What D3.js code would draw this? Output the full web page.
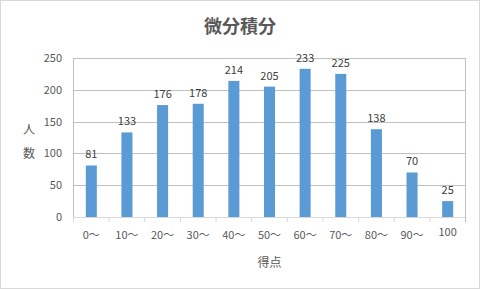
<!DOCTYPE html>
<html>
<head>
<meta charset="utf-8">
<script src="https://cdn.jsdelivr.net/npm/d3@7"></script>
<style>
body { margin: 0; background: #fff; }
text { font-family: "Noto Sans CJK JP", "Noto Sans", sans-serif; }
</style>
</head>
<body>
<div id="chart"></div>
<script>
var categories = ["0～", "10～", "20～", "30～", "40～", "50～", "60～", "70～", "80～", "90～", "100"];
var counts = [81, 133, 176, 178, 214, 205, 233, 225, 138, 70, 25];
var yTicks = [0, 50, 100, 150, 200, 250];

var w = 480, h = 289;
var pLeft = 73.5, pRight = 465.5, pTop = 58, pBottom = 217;

var svg = d3.select("#chart")
	.append("svg")
	.attr("width", w)
	.attr("height", h);

// outer border
svg.append("rect")
	.attr("x", 0.5).attr("y", 0.5)
	.attr("width", w - 1).attr("height", h - 1)
	.attr("fill", "#fff")
	.attr("stroke", "#d9d9d9");

var x = d3.scaleBand()
	.domain(categories)
	.range([pLeft, pRight])
	.paddingInner(0.69)
	.paddingOuter(0.345);

var xb = d3.scaleBand().domain(categories).range([pLeft, pRight]);

var y = d3.scaleLinear()
	.domain([0, 250])
	.range([pBottom, pTop]);

// gridlines
svg.append("g")
	.selectAll("line")
	.data(yTicks)
	.enter().append("line")
	.attr("x1", pLeft).attr("x2", pRight)
	.attr("y1", function(d) { return Math.round(y(d)) + 0.5; })
	.attr("y2", function(d) { return Math.round(y(d)) + 0.5; })
	.attr("stroke", function(d) { return d == 0 ? "#d9d9d9" : "#c0c0c0"; });

// plot border sides
svg.append("line")
	.attr("x1", pLeft).attr("x2", pLeft)
	.attr("y1", pTop).attr("y2", pBottom)
	.attr("stroke", "#c0c0c0");
svg.append("line")
	.attr("x1", pRight).attr("x2", pRight)
	.attr("y1", pTop).attr("y2", pBottom + 5)
	.attr("stroke", "#c0c0c0");

// x ticks at category boundaries
svg.append("g")
	.selectAll("line")
	.data(categories)
	.enter().append("line")
	.attr("x1", function(d) { return xb(d); })
	.attr("x2", function(d) { return xb(d); })
	.attr("y1", pBottom).attr("y2", pBottom + 5)
	.attr("stroke", "#d9d9d9");

// y tick labels
svg.append("g")
	.selectAll("text")
	.data(yTicks)
	.enter().append("text")
	.attr("x", 62)
	.attr("y", function(d) { return y(d) + 4; })
	.attr("text-anchor", "end")
	.attr("font-size", 11)
	.attr("fill", "#595959")
	.text(function(d) { return d; });

// bars
svg.append("g")
	.selectAll("rect")
	.data(counts)
	.enter().append("rect")
	.attr("x", function(d, i) { return x(categories[i]); })
	.attr("width", x.bandwidth())
	.attr("y", function(d) { return y(d); })
	.attr("height", function(d) { return pBottom - y(d); })
	.attr("fill", "#5b9bd5");

// data labels
svg.append("g")
	.selectAll("text")
	.data(counts)
	.enter().append("text")
	.attr("x", function(d, i) { return x(categories[i]) + x.bandwidth() / 2; })
	.attr("y", function(d) { return y(d) - 7; })
	.attr("text-anchor", "middle")
	.attr("font-size", 11)
	.attr("fill", "#404040")
	.text(function(d) { return d; });

// x labels
svg.append("g")
	.selectAll("text")
	.data(categories)
	.enter().append("text")
	.attr("x", function(d) { return xb(d) + xb.bandwidth() / 2; })
	.attr("y", function(d) { return d == "100" ? 236 : 239; })
	.attr("text-anchor", "middle")
	.attr("font-size", 11)
	.attr("fill", "#595959")
	.text(function(d) { return d; });

// title
svg.append("text")
	.text("微分積分")
	.attr("x", 240)
	.attr("y", 33)
	.attr("text-anchor", "middle")
	.attr("font-size", 18)
	.attr("font-weight", "bold")
	.attr("fill", "#595959");

// axis titles
svg.append("text")
	.text("得点")
	.attr("x", (pLeft + pRight) / 2)
	.attr("y", 267)
	.attr("text-anchor", "middle")
	.attr("font-size", 12)
	.attr("fill", "#595959");

svg.append("text")
	.text("人")
	.attr("x", 29)
	.attr("y", 134)
	.attr("text-anchor", "middle")
	.attr("font-size", 12)
	.attr("fill", "#595959");
svg.append("text")
	.text("数")
	.attr("x", 29)
	.attr("y", 158)
	.attr("text-anchor", "middle")
	.attr("font-size", 12)
	.attr("fill", "#595959");
</script>
</body>
</html>
